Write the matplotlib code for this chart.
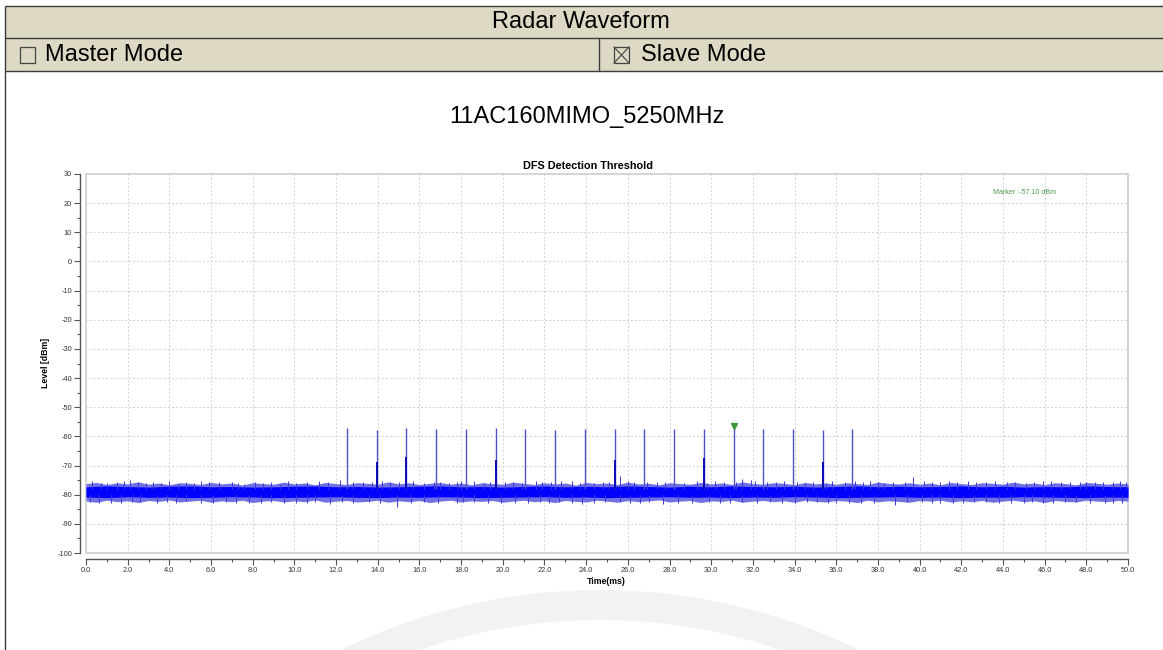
import numpy as np
import matplotlib.pyplot as plt
from matplotlib.patches import Rectangle, Wedge
from matplotlib.ticker import MultipleLocator, FormatStrFormatter

plt.rcParams['font.family'] = ['Liberation Sans', 'DejaVu Sans']
plt.rcParams['axes.unicode_minus'] = False

# header / titles
header_title = 'Radar Waveform'
mode_labels = ['Master Mode', 'Slave Mode']
mode_checked = [False, True]
chart_name = '11AC160MIMO_5250MHz'
plot_title = 'DFS Detection Threshold'
marker_text = 'Marker :-57.10 dBm'

# noise floor outer envelope, read every 0.5 ms (dBm)
outer_t = np.arange(0, 50.5, 0.5)
upper_outer = [-76.2, -75.8, -76.5, -75.9, -76.3, -75.6, -76.4, -76.0, -76.6, -75.9,
               -76.1, -76.5, -75.8, -76.3, -76.0, -76.7, -75.9, -76.2, -76.4, -75.7,
               -76.3, -76.0, -76.6, -75.8, -76.2, -76.5, -75.9, -76.1, -76.4, -75.6,
               -76.3, -75.9, -76.5, -76.1, -75.8, -76.4, -76.0, -76.6, -75.9, -76.2,
               -76.4, -75.7, -76.1, -76.5, -75.9, -76.3, -76.0, -76.7, -75.8, -76.2,
               -76.0, -76.5, -75.7, -76.3, -76.1, -76.6, -75.9, -76.2, -76.4, -75.8,
               -76.3, -76.0, -76.5, -75.6, -76.2, -76.4, -75.9, -76.1, -76.6, -75.8,
               -76.3, -76.0, -76.4, -75.9, -76.2, -76.5, -75.7, -76.1, -76.3, -75.9,
               -76.4, -76.0, -76.6, -75.8, -76.2, -76.5, -75.9, -76.1, -76.4, -75.7,
               -76.3, -76.0, -76.5, -75.9, -76.2, -76.6, -75.8, -76.1, -76.4, -76.0,
               -76.3]
lower_outer = [-82.2, -82.6, -81.9, -82.4, -82.1, -82.7, -82.0, -82.3, -81.8, -82.5,
               -82.2, -81.9, -82.6, -82.1, -82.4, -81.9, -82.7, -82.2, -82.0, -82.5,
               -82.1, -82.4, -81.8, -82.6, -82.2, -82.0, -82.5, -82.3, -81.9, -82.6,
               -82.1, -82.4, -82.0, -82.7, -82.2, -81.9, -82.5, -82.1, -82.3, -82.0,
               -82.6, -82.2, -81.9, -82.4, -82.1, -82.7, -82.0, -82.3, -82.5, -81.9,
               -82.2, -82.6, -82.0, -82.4, -82.1, -81.8, -82.5, -82.2, -82.0, -82.7,
               -82.1, -82.3, -81.9, -82.6, -82.2, -82.0, -82.4, -82.1, -82.6, -81.9,
               -82.3, -82.5, -82.0, -82.2, -82.7, -81.9, -82.4, -82.1, -82.3, -82.6,
               -82.0, -82.2, -81.9, -82.5, -82.1, -82.4, -82.0, -82.6, -82.2, -81.9,
               -82.4, -82.1, -82.7, -82.0, -82.3, -82.5, -81.9, -82.2, -82.4, -82.0,
               -82.2]

# dense core of the noise floor, read every 1 ms
core_t = [0, 1, 2, 3, 4, 5, 6, 7, 8, 9, 10, 11, 12, 13, 14, 15, 16, 17, 18, 19, 20,
          21, 22, 23, 24, 25, 26, 27, 28, 29, 30, 31, 32, 33, 34, 35, 36, 37, 38, 39, 40,
          41, 42, 43, 44, 45, 46, 47, 48, 49, 50]
upper_core = [-77.3, -77.0, -77.2, -77.4, -77.1, -77.0, -77.3, -77.2, -77.4, -77.3, -77.1,
              -77.0, -77.3, -77.2, -77.4, -77.3, -77.1, -77.0, -77.3, -77.2, -77.4,
              -77.2, -77.0, -77.3, -77.1, -77.3, -77.0, -77.2, -77.4, -77.1, -77.3,
              -77.0, -77.2, -77.3, -77.1, -77.4, -77.2, -77.0, -77.3, -77.1, -77.3,
              -77.2, -77.0, -77.3, -77.1, -77.4, -77.2, -77.3, -77.0, -77.2, -77.3]
lower_core = [-80.8, -81.0, -80.7, -80.9, -80.8, -81.0, -80.9, -80.7, -80.8, -81.0, -80.9,
              -80.8, -80.7, -80.9, -81.0, -80.8, -80.9, -80.7, -80.8, -81.0, -80.9,
              -80.8, -80.7, -80.9, -80.8, -81.0, -80.9, -80.8, -80.7, -80.9, -80.8,
              -81.0, -80.8, -80.9, -80.7, -80.8, -81.0, -80.9, -80.8, -80.7, -80.9,
              -80.8, -81.0, -80.8, -80.9, -80.7, -80.8, -80.9, -81.0, -80.8, -80.9]

# individual noise spikes (time ms, level dBm)
up_spike_t = [0.3, 0.7, 1.0, 1.5, 1.8, 2.1, 2.5, 2.9, 3.2, 3.6, 4.0, 4.4, 4.8, 5.2, 5.5,
              5.9, 6.4, 7.0, 7.3, 7.6, 8.1, 8.5, 8.9, 9.3, 9.7, 10.1, 10.6, 11.2, 11.6,
              12.2, 12.8, 13.3, 13.7, 14.2, 14.6, 15.0, 15.7, 16.2, 16.7, 17.0, 17.4, 17.8,
              18.0, 18.6, 19.1, 19.4, 20.1, 20.5, 20.9, 21.6, 21.9, 22.3, 22.8, 23.3, 23.7,
              24.4, 24.8, 25.1, 25.6, 26.0, 26.3, 26.9, 27.4, 27.8, 28.2, 28.7, 29.3, 29.8,
              30.2, 30.6, 31.2, 31.5, 31.9, 32.1, 32.7, 33.1, 33.5, 34.1, 34.5, 34.9, 35.5,
              35.8, 36.4, 36.9, 37.3, 37.6, 38.0, 38.3, 38.7, 39.3, 39.7, 40.2, 40.6, 41.0,
              41.4, 41.8, 42.3, 42.7, 43.2, 43.6, 44.2, 44.6, 45.1, 45.5, 45.9, 46.3, 46.8,
              47.2, 47.7, 48.0, 48.4, 48.8, 49.3, 49.6, 49.9]
up_spike_v = [-75.4, -76.1, -75.9, -75.5, -75.3, -75.0, -75.7, -76.0, -75.6, -75.9, -75.4,
              -76.3, -75.8, -76.1, -75.3, -75.8, -75.7, -75.5, -75.9, -76.2, -75.5, -76.0,
              -75.6, -76.3, -75.4, -75.9, -75.8, -75.2, -75.6, -75.0, -75.5, -75.6, -75.8,
              -75.4, -75.8, -75.7, -75.3, -75.9, -75.7, -75.5, -76.0, -75.7, -75.4, -75.3,
              -75.9, -75.8, -75.5, -75.6, -75.9, -75.3, -75.6, -75.8, -75.4, -75.4, -75.9,
              -76.0, -75.5, -75.8, -73.6, -75.4, -75.8, -75.7, -75.5, -75.6, -75.3, -75.9,
              -75.2, -75.9, -75.4, -75.6, -75.7, -74.6, -75.1, -75.3, -75.6, -75.8, -75.4,
              -75.8, -75.9, -75.5, -75.9, -75.4, -75.6, -75.3, -75.8, -75.2, -75.5, -75.9,
              -75.7, -75.6, -73.8, -75.3, -75.7, -75.8, -75.4, -75.5, -75.3, -75.7, -75.8,
              -75.4, -75.5, -75.8, -75.9, -75.6, -75.4, -75.4, -75.6, -75.7, -75.8, -75.5,
              -75.5, -75.8, -75.7, -75.4, -75.8]
down_spike_t = [0.2, 0.6, 1.2, 1.7, 2.2, 2.6, 3.4, 3.9, 4.3, 4.8, 5.5, 6.1, 6.7, 7.2, 7.8,
                8.4, 8.9, 9.5, 10.1, 10.6, 11.0, 11.7, 12.3, 12.8, 13.6, 14.1, 14.9, 15.6,
                16.2, 16.9, 17.8, 18.1, 18.6, 19.3, 19.9, 20.6, 21.2, 21.8, 22.2, 22.7,
                23.3, 23.8, 24.4, 24.9, 25.6, 26.1, 26.6, 27.0, 27.7, 28.4, 29.1, 29.9,
                30.4, 30.9, 31.5, 32.2, 32.8, 33.4, 34.0, 34.6, 35.1, 35.6, 36.0, 36.6,
                37.2, 37.8, 38.8, 39.4, 40.1, 40.6, 41.0, 41.6, 42.1, 42.6, 43.2, 43.8,
                44.4, 45.0, 45.4, 45.9, 46.4, 47.0, 47.5, 48.2, 48.9, 49.3, 49.7]
down_spike_v = [-82.4, -82.8, -82.7, -82.9, -82.5, -82.5, -83.0, -82.6, -82.7, -82.3,
                -82.9, -82.8, -82.6, -82.8, -83.0, -83.0, -82.5, -82.7, -82.9, -82.8,
                -82.6, -83.1, -82.6, -82.7, -82.5, -82.9, -84.3, -82.7, -82.6, -83.0,
                -82.9, -82.6, -82.4, -82.9, -82.7, -82.7, -83.0, -82.6, -82.9, -82.6,
                -82.7, -83.1, -83.0, -82.6, -82.6, -82.8, -82.9, -82.4, -83.1, -82.9,
                -82.7, -82.5, -82.9, -82.7, -82.6, -83.0, -82.6, -82.7, -82.9, -82.6,
                -82.5, -83.0, -82.8, -82.7, -82.7, -82.9, -83.6, -82.6, -82.6, -82.8,
                -82.9, -82.7, -83.0, -82.5, -82.6, -82.8, -82.9, -82.7, -82.6, -82.8,
                -82.9, -82.6, -82.5, -82.9, -82.7, -82.7, -82.8]

# radar pulses (time ms, peak dBm)
pulse_t = [12.51, 13.94, 15.37, 16.79, 18.23, 19.66, 21.08, 22.52, 23.94,
           25.37, 26.79, 28.23, 29.65, 31.08, 32.50, 33.94, 35.36, 36.77]
pulse_peak = [-57.2, -57.9, -57.1, -57.3, -57.5, -57.1, -57.5, -57.7, -57.5,
              -57.4, -57.3, -57.5, -57.4, -57.1, -57.5, -57.5, -57.9, -57.5]
# pulses with a second, lower sample drawn darker
dark_t = [13.94, 15.37, 19.66, 25.37, 29.65, 35.36]
dark_top = [-68.7, -67.0, -68.0, -68.1, -67.5, -68.7]

marker_t = 31.08
marker_v = -57.1

W, H = 1163, 650
fig = plt.figure(figsize=(W / 100, H / 100), dpi=100)

# page layer in pixel coords
bg = fig.add_axes([0, 0, 1, 1])
bg.set_xlim(0, W)
bg.set_ylim(H, 0)
bg.axis('off')

# faint watermark ring
bg.add_patch(Wedge((600, 1180), 590, 0, 360, width=30, fc='#f2f2f2', ec='none'))

bg.add_patch(Rectangle((5, 6), W - 5, 65, fc='#ddd9c4', ec='none'))
lc = '#3c3c3c'
for xs, ys in [([5, W], [6, 6]), ([5, W], [38, 38]), ([5, W], [71, 71]),
               ([5, 5], [6, H]), ([599, 599], [38, 71])]:
    bg.plot(xs, ys, color=lc, lw=1.0, solid_capstyle='butt')

bg.text(581, 22, header_title, ha='center', va='center', fontsize=17)
box_x = [20, 614]
text_x = [45, 641]
for lab, chk, bx, tx in zip(mode_labels, mode_checked, box_x, text_x):
    bg.add_patch(Rectangle((bx, 47), 15, 16, fill=False, ec='#444444', lw=0.9))
    if chk:
        bg.plot([bx, bx + 15], [47, 63], color='#444444', lw=0.8)
        bg.plot([bx, bx + 15], [63, 47], color='#444444', lw=0.8)
    bg.text(tx, 55, lab, ha='left', va='center', fontsize=17)

bg.text(587, 117, chart_name, ha='center', va='center', fontsize=17)
bg.text(588, 166, plot_title, ha='center', va='center', fontsize=7.8, fontweight='bold')
bg.text(606, 581, 'Time(ms)', ha='center', va='center', fontsize=6.3, fontweight='bold')
bg.text(45, 363, 'Level [dBm]', ha='center', va='center', fontsize=6.3,
        fontweight='bold', rotation=90)

# main chart
ax = fig.add_axes([86 / W, 1 - 553 / H, (1128 - 86) / W, (553 - 174) / H])
ax.set_xlim(0, 50)
ax.set_ylim(-100, 30)

ax.fill_between(outer_t, lower_outer, upper_outer, color='#7070e2', lw=0, zorder=2)
ax.fill_between(core_t, lower_core, upper_core, color='#0000ff', lw=0, zorder=3)
ax.vlines(up_spike_t, -78.0, up_spike_v, color='#3a3ae0', lw=0.7, zorder=3)
ax.vlines(down_spike_t, -80.0, down_spike_v, color='#3a3ae0', lw=0.7, zorder=3)

ax.vlines(pulse_t, -78.0, pulse_peak, color='#5050cc', lw=1.0, zorder=4)
ax.vlines(dark_t, -78.0, dark_top, color='#0a0ab4', lw=1.4, zorder=5)
ax.plot([marker_t], [marker_v + 0.6], marker='v', color='#3c9a3c', ms=4.0, zorder=6)
ax.text(0.901, 0.950, marker_text, transform=ax.transAxes, ha='center', va='center',
        fontsize=5.1, color='#4c9a4c')

ax.xaxis.set_major_locator(MultipleLocator(2))
ax.xaxis.set_minor_locator(MultipleLocator(1))
ax.yaxis.set_major_locator(MultipleLocator(10))
ax.yaxis.set_minor_locator(MultipleLocator(5))
ax.xaxis.set_major_formatter(FormatStrFormatter('%.1f'))
ax.grid(True, which='major', color='#d2d2d2', ls=(0, (2, 2)), lw=0.7)
ax.set_axisbelow(True)

for s in ['top', 'right']:
    ax.spines[s].set_visible(False)
for s in ['left', 'bottom']:
    ax.spines[s].set_position(('outward', 4))
    ax.spines[s].set_color('#555555')
    ax.spines[s].set_linewidth(1.0)
ax.add_patch(Rectangle((0, 0), 1, 1, transform=ax.transAxes, fill=False,
                       ec='#d6d6d6', lw=1.5, clip_on=False, zorder=1))

ax.tick_params(which='major', length=4, width=0.8, color='#555555',
               labelsize=5.3, labelcolor='#333333', pad=2)
ax.tick_params(which='minor', length=2.5, width=0.8, color='#555555')

fig.savefig('out.png', dpi=100)
